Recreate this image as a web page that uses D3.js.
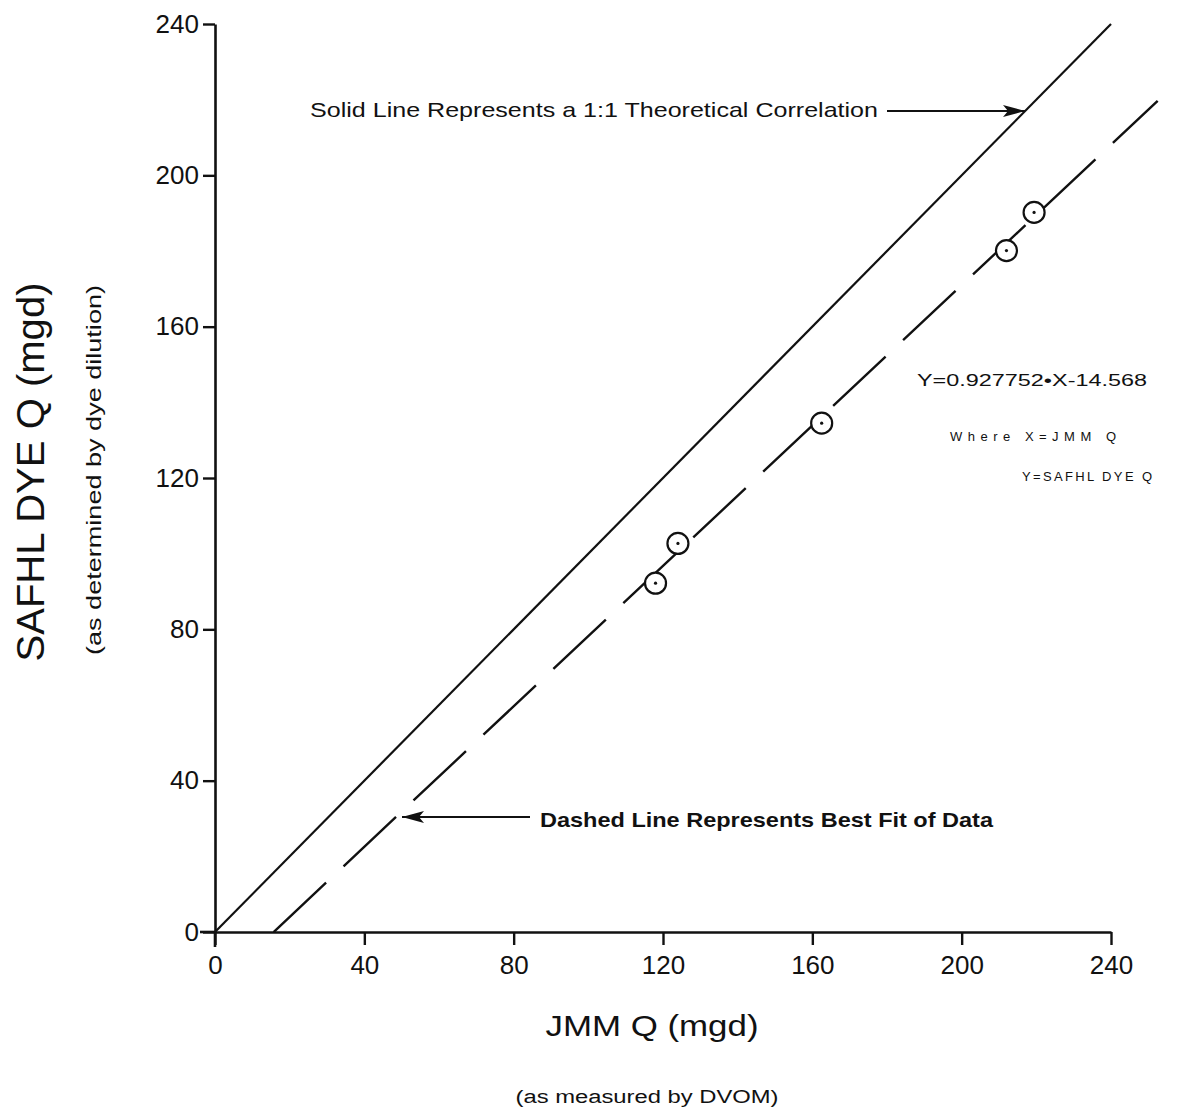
<!DOCTYPE html>
<html><head><meta charset="utf-8">
<script src="https://cdn.jsdelivr.net/npm/d3@7"></script>
<style>
html,body{margin:0;padding:0;background:#fff;}
svg{display:block;}
text{font-family:"Liberation Sans",Arial,Helvetica,sans-serif;fill:#111;}
</style></head>
<body>
<script>
// ---- data ----
const jmmQ   = [118.0, 124.0, 162.5, 212.0, 219.4];   // x: JMM Q (mgd)
const safhlQ = [92.2, 102.7, 134.5, 180.1, 190.2];    // y: SAFHL DYE Q (mgd)
const xTicks = [0, 40, 80, 120, 160, 200, 240];
const yTicks = [0, 40, 80, 120, 160, 200, 240];
const identityLine = [0, 240];                        // 1:1 line endpoints
const fitSlope = 0.927752, fitIntercept = -14.568;
const fitXRange = [15.7, 252.5];

const W = 1184, H = 1111;
const svg = d3.select("body").append("svg").attr("width", W).attr("height", H);

const x = d3.scaleLinear().domain([0, 240]).range([215, 1111]);
const y = d3.scaleLinear().domain([0, 240]).range([932, 24]);

const ink = "#111";

// axes
const xAxis = svg.append("g").attr("transform", `translate(0,${y(0)})`)
  .call(d3.axisBottom(x).tickValues(xTicks).tickSize(13).tickPadding(11).tickSizeOuter(0));
const yAxis = svg.append("g").attr("transform", `translate(${x(0)},0)`)
  .call(d3.axisLeft(y).tickValues(yTicks).tickSize(12).tickPadding(4).tickSizeOuter(0));
[xAxis, yAxis].forEach(g => {
  g.select(".domain").attr("stroke", ink).attr("stroke-width", 2.6);
  g.selectAll(".tick line").attr("stroke", ink).attr("stroke-width", 2.4);
  g.selectAll(".tick text").attr("fill", ink).style("font-size", "26px")
    .style("font-family", '"Liberation Sans",Arial,sans-serif');
});
// axis line extensions past origin
svg.append("line").attr("x1", x(0) - 15).attr("x2", x(0)).attr("y1", y(0)).attr("y2", y(0))
  .attr("stroke", ink).attr("stroke-width", 2.6);
svg.append("line").attr("x1", x(0)).attr("x2", x(0)).attr("y1", y(0)).attr("y2", y(0) + 15)
  .attr("stroke", ink).attr("stroke-width", 2.6);

// 1:1 solid line
const line = d3.line().x(d => x(d[0])).y(d => y(d[1]));
svg.append("path")
  .datum(identityLine.map(v => [v, v]))
  .attr("d", line).attr("fill", "none").attr("stroke", ink).attr("stroke-width", 2.2);

// best fit dashed line
svg.append("path")
  .datum(fitXRange.map(v => [v, fitSlope * v + fitIntercept]))
  .attr("d", line).attr("fill", "none").attr("stroke", ink).attr("stroke-width", 2.4)
  .attr("stroke-dasharray", "72,24");

// data points
const pts = svg.append("g").selectAll("g").data(jmmQ.map((v, i) => [v, safhlQ[i]])).join("g")
  .attr("transform", d => `translate(${x(d[0])},${y(d[1])})`);
pts.append("circle").attr("r", 10.5).attr("fill", "#fff").attr("stroke", ink).attr("stroke-width", 2.2);
pts.append("circle").attr("r", 1.6).attr("fill", ink);

// arrow marker
const defs = svg.append("defs");
defs.append("marker").attr("id", "arr").attr("viewBox", "0 0 22 12").attr("refX", 22).attr("refY", 6)
  .attr("markerWidth", 22).attr("markerHeight", 12).attr("markerUnits", "userSpaceOnUse").attr("orient", "auto")
  .append("path").attr("d", "M0,0 L22,6 L0,12 L5,6 Z").attr("fill", ink);

// annotations
svg.append("text").attr("x", 310).attr("y", 117).style("font-size", "21px")
  .attr("textLength", 568).attr("lengthAdjust", "spacingAndGlyphs")
  .text("Solid Line Represents a 1:1 Theoretical Correlation");
svg.append("line").attr("x1", 887).attr("x2", 1025).attr("y1", 111).attr("y2", 111)
  .attr("stroke", ink).attr("stroke-width", 2).attr("marker-end", "url(#arr)");

svg.append("text").attr("x", 540).attr("y", 827).style("font-size", "21px").style("font-weight", "bold")
  .attr("textLength", 453).attr("lengthAdjust", "spacingAndGlyphs")
  .text("Dashed Line Represents Best Fit of Data");
svg.append("line").attr("x1", 530).attr("x2", 402).attr("y1", 817).attr("y2", 817)
  .attr("stroke", ink).attr("stroke-width", 2).attr("marker-end", "url(#arr)");

svg.append("text").attr("x", 917).attr("y", 386).style("font-size", "17px")
  .attr("textLength", 230).attr("lengthAdjust", "spacingAndGlyphs")
  .text("Y=0.927752\u2022X-14.568");
svg.append("text").attr("x", 950).attr("y", 441).style("font-size", "13px")
  .attr("textLength", 166).attr("lengthAdjust", "spacing")
  .text("Where X=JMM Q");
svg.append("text").attr("x", 1022).attr("y", 481).style("font-size", "13px")
  .attr("textLength", 130).attr("lengthAdjust", "spacing")
  .text("Y=SAFHL DYE Q");

// axis titles
svg.append("text").attr("transform", "translate(44,472) rotate(-90)").attr("text-anchor", "middle")
  .style("font-size", "38px").attr("textLength", 379).attr("lengthAdjust", "spacingAndGlyphs")
  .text("SAFHL DYE Q (mgd)");
svg.append("text").attr("transform", "translate(101,470) rotate(-90)").attr("text-anchor", "middle")
  .style("font-size", "21px").attr("textLength", 370).attr("lengthAdjust", "spacingAndGlyphs")
  .text("(as determined by dye dilution)");
svg.append("text").attr("x", 652).attr("y", 1036).attr("text-anchor", "middle")
  .style("font-size", "29px").attr("textLength", 213).attr("lengthAdjust", "spacingAndGlyphs")
  .text("JMM Q (mgd)");
svg.append("text").attr("x", 647).attr("y", 1103).attr("text-anchor", "middle")
  .style("font-size", "18px").attr("textLength", 263).attr("lengthAdjust", "spacingAndGlyphs")
  .text("(as measured by DVOM)");
</script>
</body></html>
